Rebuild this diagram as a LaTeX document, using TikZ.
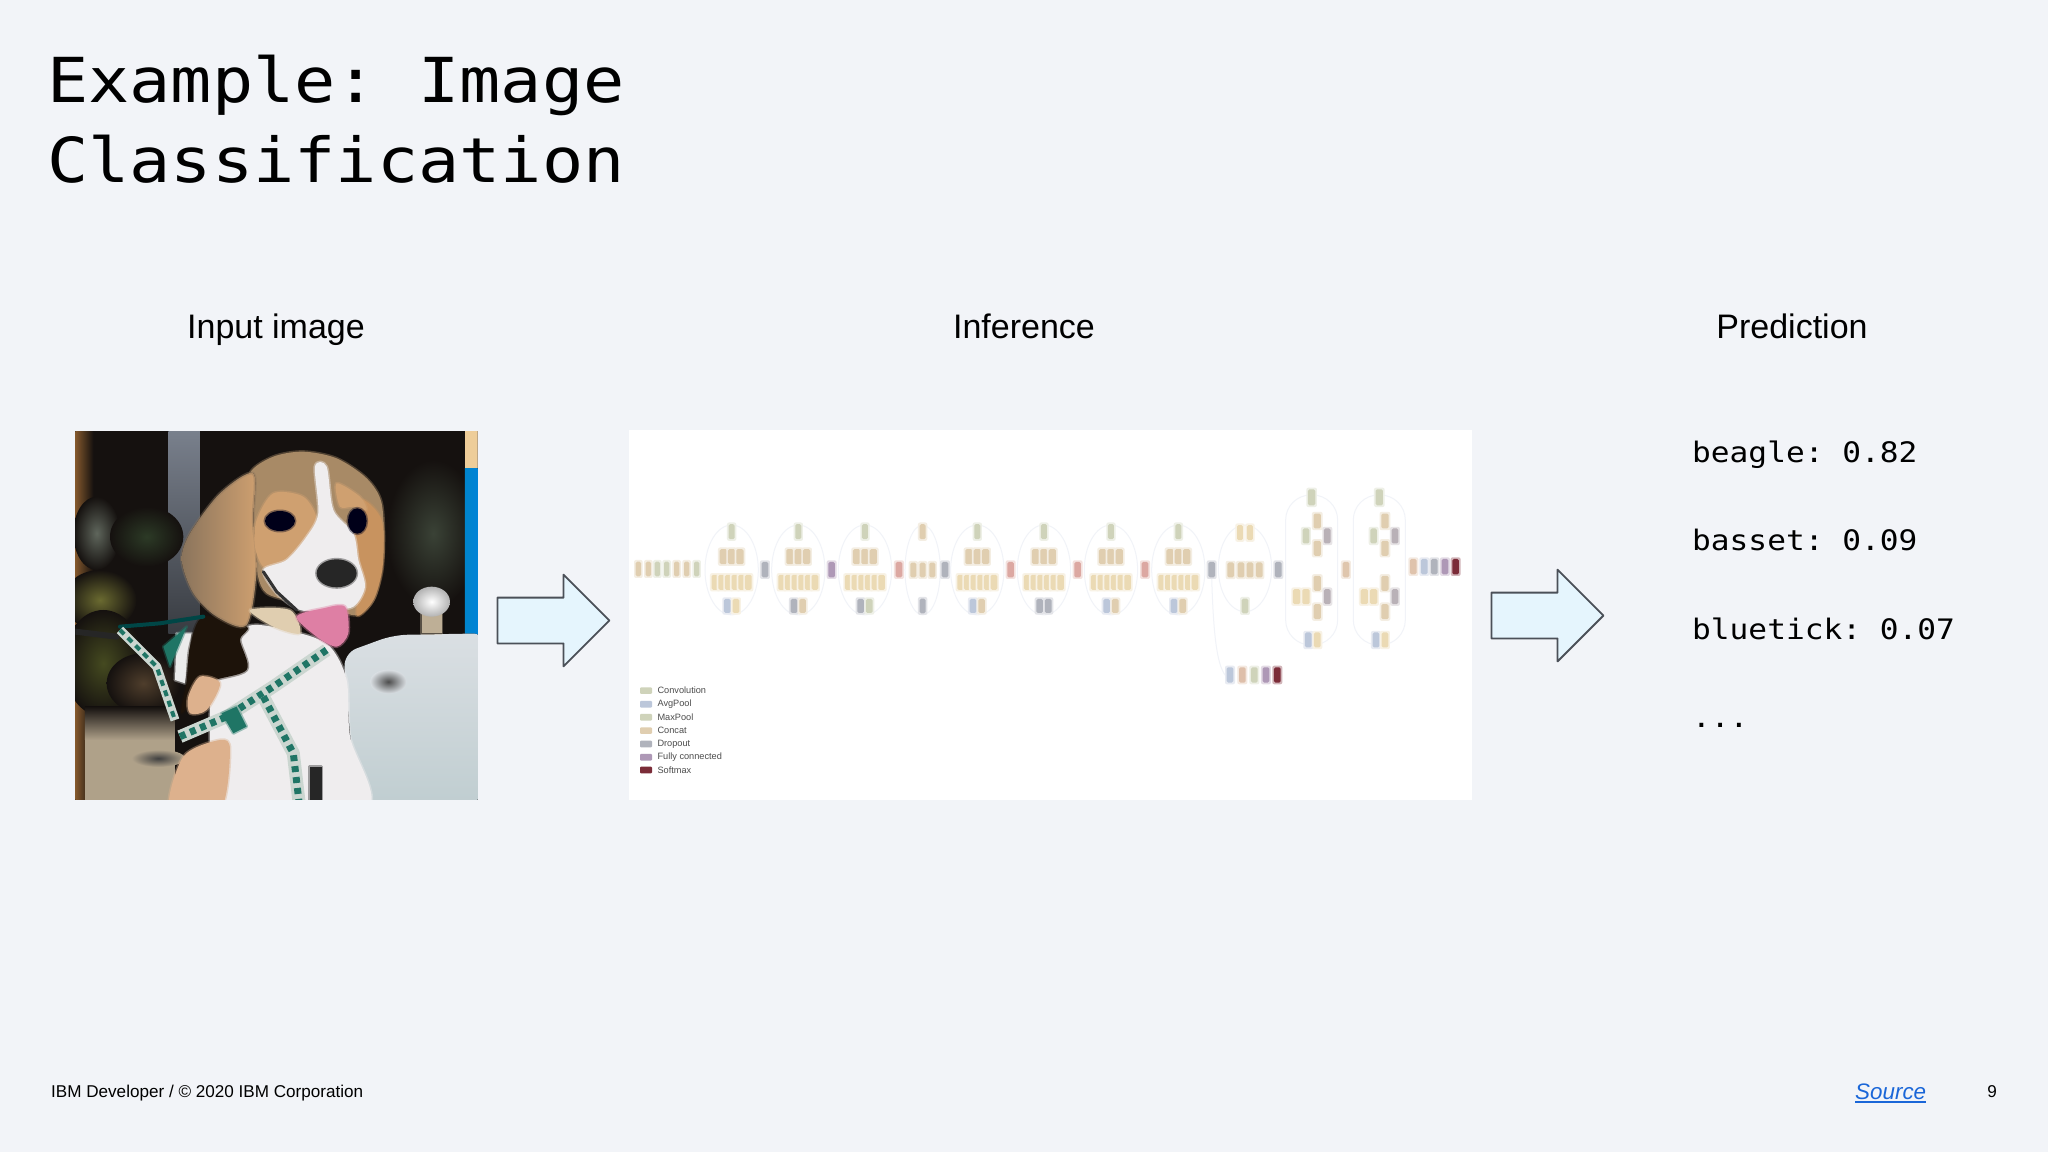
\documentclass[tikz,border=0pt]{standalone}
\usepackage{fontspec}
\usepackage{xcolor}
\usetikzlibrary{shapes.arrows}
\setmainfont{Liberation Sans}
\newfontfamily\codefont[FakeStretch=1.105]{DejaVu Sans Mono}
\frenchspacing

\definecolor{slidebg}{HTML}{F2F4F8}
\definecolor{arrowfill}{HTML}{E5F5FD}
\definecolor{arrowline}{HTML}{4B5058}
\definecolor{linkblue}{HTML}{1A66D8}
\definecolor{conv}{HTML}{EBDAB4}
\definecolor{tanb}{HTML}{E0CEB0}
\definecolor{blueb}{HTML}{BCC7DA}
\definecolor{greyb}{HTML}{B0B3BC}
\definecolor{sageb}{HTML}{CFD3BA}
\definecolor{pinkb}{HTML}{DCA8A2}
\definecolor{mauveb}{HTML}{AE98B6}
\definecolor{maroonb}{HTML}{7B2C38}
\definecolor{ringb}{HTML}{F1F3F8}
\definecolor{dogdark}{HTML}{15110F}
\definecolor{leafgrey}{HTML}{5F665C}
\definecolor{leafgreen}{HTML}{2C3A26}
\definecolor{leafolive}{HTML}{6A6A30}
\definecolor{leaflow}{HTML}{454A20}
\definecolor{leafbrown}{HTML}{4F3E2C}
\definecolor{leafright}{HTML}{3A4236}
\definecolor{furbrown}{HTML}{A88A66}
\definecolor{furgrey}{HTML}{8A745C}
\definecolor{furtan}{HTML}{CFA070}
\definecolor{furear}{HTML}{C8935F}
\definecolor{furwhite}{HTML}{EFEDEE}
\definecolor{peach}{HTML}{DDB18D}
\definecolor{tongue}{HTML}{DE7FA4}
\definecolor{carpale}{HTML}{DADFE3}
\definecolor{carlow}{HTML}{BFCDD0}
\definecolor{strapbase}{HTML}{CBD6D0}
\definecolor{strapgreen}{HTML}{1F7565}

\tikzset{
  blockarrow/.style={single arrow,draw=arrowline,fill=arrowfill,line width=1.8pt,
    minimum height=112pt,single arrow head extend=23pt,
    single arrow tip angle=90,single arrow head indent=0pt,inner sep=0pt,outer sep=0pt},
  heading/.style={anchor=base,font=\fontsize{34}{34}\selectfont,text=black,inner sep=0pt},
  titletext/.style={anchor=base west,font=\codefont\fontsize{62}{62}\selectfont,text=black,inner sep=0pt},
  scoretext/.style={anchor=base west,font=\codefont\fontsize{28.2}{28.2}\selectfont,text=black,inner sep=0pt},
  foottext/.style={anchor=base,font=\fontsize{17.1}{17.1}\selectfont,text=black,inner sep=0pt},
  legendtext/.style={anchor=west,font=\fontsize{9.2}{9.2}\selectfont,text=black!70,inner sep=0pt},
  ring/.style={draw=ringb,line width=1pt},
  soft/.style={fill=#1,draw=#1,draw opacity=.4,line width=3pt},
  strapw/.style={draw=strapbase,line width=13pt,line cap=butt},
  strapg/.style={draw=strapgreen,line width=7pt,line cap=butt,dash pattern=on 6pt off 5pt},
}
% one small block of the network, in crop units
\newcommand{\brick}[5]{
  \fill[#5!35,rounded corners=2pt] ({#1-#3/2-5},{#2-#4/2-5}) rectangle ({#1+#3/2+5},{#2+#4/2+5});
  \fill[#5,rounded corners=1.5pt] ({#1-#3/2},{#2-#4/2}) rectangle ({#1+#3/2},{#2+#4/2});
}
% a module with three rows and its two rings
\newcommand{\wideblock}[3]{
  \draw[ring] (#1,450) ellipse (80 and 135);
  \brick{#1}{335}{18}{45}{sageb}
  \foreach \dx in {-25,0,25} {\brick{#1+\dx}{410}{22}{45}{tanb}}
  \foreach \dx in {-50,-30,-10,10,30,50} {\brick{#1+\dx}{487}{20}{45}{conv}}
  \brick{#1-13}{558}{20}{42}{#2}
  \brick{#1+13}{558}{20}{42}{#3}
}
% a module with two diamonds
\newcommand{\tallblock}[1]{
  \draw[ring,rounded corners=25pt] (#1-78,225) rectangle (#1+78,675);
  \brick{#1}{232}{22}{48}{sageb}
  \brick{#1+17}{303}{22}{45}{tanb}
  \brick{#1-17}{348}{20}{45}{sageb}
  \brick{#1+47}{348}{20}{45}{greyb!80!pinkb}
  \brick{#1+17}{385}{22}{45}{tanb}
  \brick{#1-45}{530}{22}{45}{conv}
  \brick{#1-17}{530}{22}{45}{conv}
  \brick{#1+17}{490}{22}{45}{tanb}
  \brick{#1+47}{530}{20}{45}{greyb!80!pinkb}
  \brick{#1+17}{575}{22}{45}{tanb}
  \brick{#1-10}{660}{20}{45}{blueb}
  \brick{#1+17}{660}{20}{45}{conv}
}

\begin{document}
\begin{tikzpicture}[line cap=round,line join=round,x=1pt,y=-1pt]
\useasboundingbox (0,0) rectangle (2048,1152);
\fill[slidebg] (0,0) rectangle (2048,1152);

\node[titletext] (titleA) at (47,102) {Example: Image};
\node[titletext] (titleB) at (47,182) {Classification};

\node[heading] (inputhead) at (276,338) {Input image};
\node[heading] (inferhead) at (1024,338) {Inference};
\node[heading] (predhead) at (1792,338) {Prediction};

% dog photo, in crop units
\begin{scope}[shift={(60,420)},x=0.3333pt,y=-0.3333pt]
\clip (46,33) rectangle (1253,1138);
\fill[dogdark] (40,20) rectangle (1260,1170);
\fill[left color=brown!75!black,right color=dogdark] (40,20) rectangle (100,1170);
\fill[top color=blueb!65!black,bottom color=blueb!30!black] (325,20) rectangle (420,640);
\shade[inner color=leafgrey,outer color=dogdark] (110,340) ellipse (70 and 110);
\shade[inner color=leafgreen,outer color=dogdark] (260,350) ellipse (110 and 90);
\shade[inner color=leafolive,outer color=dogdark] (120,540) ellipse (110 and 90);
\shade[inner color=leaflow,outer color=dogdark] (130,730) ellipse (120 and 160);
\shade[inner color=leafbrown,outer color=dogdark] (250,790) ellipse (110 and 90);
\shade[inner color=leafright,outer color=dogdark] (1120,340) ellipse (140 and 220);
\fill[top color=dogdark,bottom color=black!22!tanb] (75,860) rectangle (345,960);
\fill[black!22!tanb] (75,960) rectangle (345,1170);
\shade[inner color=black!75,outer color=black!22!tanb] (295,1015) ellipse (80 and 26);
\fill[conv!85!orange] (1215,20) rectangle (1260,150);
\fill[left color=blue!35!cyan!80!black,right color=blue!40!cyan!85!black] (1215,145) rectangle (1260,650);
% car and cup
\fill[top color=carpale,bottom color=carlow,rounded corners=14pt] (850,700) -- (1000,645) -- (1280,640) -- (1280,1170) -- (890,1170) -- cycle;
\shade[inner color=black!70,outer color=carpale] (985,785) ellipse (55 and 36);
\fill[soft=tanb!85!black] (1085,570) rectangle (1145,640);
\shade[inner color=white,outer color=black!30] (1115,545) ellipse (55 and 45);
% body
\fill[soft=furwhite] plot[smooth cycle] coordinates {(560,620) (480,760) (450,830) (500,1170) (920,1170) (870,950) (860,780) (810,680) (720,640)};
\fill[soft=black!8] (350,640) -- (395,640) -- (375,790) -- (345,780) -- cycle;
\fill[soft=black!85!brown] plot[smooth cycle] coordinates {(430,590) (390,680) (380,790) (365,880) (440,790) (560,750) (540,660) (560,620)};
\fill[soft=peach] plot[smooth cycle] coordinates {(385,830) (420,770) (480,790) (440,870) (390,880)};
\fill[soft=peach] plot[smooth cycle] coordinates {(330,1170) (370,1010) (480,960) (510,990) (480,1170)};
% head
\fill[soft=furbrown] plot[smooth cycle] coordinates {(570,160) (640,110) (730,95) (830,115) (920,175) (965,250) (970,400) (945,530) (890,585) (800,560) (620,520) (585,400) (580,260)};
\fill[left color=furgrey,right color=furtan,draw=furgrey,draw opacity=.4,line width=3pt] plot[smooth cycle] coordinates {(580,160) (480,220) (390,340) (365,420) (400,520) (470,590) (560,615) (590,450) (580,300)};
\fill[soft=furear] plot[smooth cycle] coordinates {(905,240) (965,300) (968,440) (940,540) (890,585) (900,450) (880,330)};
\fill[soft=furtan] plot[smooth cycle] coordinates {(590,300) (640,220) (730,230) (770,300) (730,380) (660,440) (610,440) (585,380)};
\fill[soft=furtan] plot[smooth cycle] coordinates {(830,190) (900,230) (920,270) (880,260) (840,260)};
\fill[soft=furwhite] plot[smooth cycle] coordinates {(765,140) (800,140) (820,270) (880,340) (895,420) (915,500) (880,560) (800,570) (720,570) (650,520) (610,450) (680,420) (740,350) (775,280)};
\fill[soft=tanb] plot[smooth cycle] coordinates {(570,570) (690,570) (720,640) (640,620)};
\fill[soft=black!90!blue] (660,303) ellipse (45 and 30);
\fill[soft=black!90!blue] (892,303) ellipse (28 and 38);
\fill[soft=black!85] (830,460) ellipse (60 and 42);
\draw[black!80,line width=3pt] (610,455) -- (650,515) -- (710,570);
\fill[soft=tongue] plot[smooth cycle] coordinates {(710,590) (790,565) (855,560) (865,640) (830,680) (770,650)};
% harness
\draw[black!85,line width=6pt] (46,635) -- (170,650);
\fill[soft=strapgreen] (310,680) -- (380,620) -- (330,740) -- cycle;
\draw[black!45!teal,line width=4pt] (180,620) -- (300,610) -- (430,590);
\draw[strapw,line width=9pt] (180,630) -- (290,740) -- (345,900);
\draw[strapg,line width=4pt] (180,630) -- (290,740) -- (345,900);
\draw[strapw] (360,950) -- (500,890) -- (640,800) -- (800,690);
\draw[strapg] (360,950) -- (500,890) -- (640,800) -- (800,690);
\draw[strapw] (610,830) -- (700,1000) -- (720,1170);
\draw[strapg] (610,830) -- (700,1000) -- (720,1170);
\fill[soft=strapgreen] (485,880) -- (530,860) -- (560,920) -- (520,940) -- cycle;
\fill[soft=black!85] (750,1040) rectangle (785,1170);
\end{scope}

% network panel
\fill[white] (629,430) rectangle (1472,800);

\begin{scope}[shift={(620,420)},x=0.3333pt,y=-0.3333pt]
\foreach \px/\pc in {55/tanb,85/tanb,112/sageb,140/sageb,170/tanb,200/tanb,230/sageb} {\brick{\px}{447}{16}{44}{\pc}}
\wideblock{335}{blueb}{conv}
\wideblock{535}{greyb}{tanb}
\wideblock{735}{greyb}{sageb}
\wideblock{1072}{blueb}{tanb}
\wideblock{1272}{greyb}{greyb}
\wideblock{1473}{blueb}{tanb}
\draw[ring] (908,450) ellipse (53 and 135);
\brick{908}{335}{18}{45}{tanb}
\foreach \px in {880,908,937} {\brick{\px}{450}{18}{44}{tanb}}
\brick{908}{558}{18}{44}{greyb}
\foreach \px/\pc in {435/greyb,635/mauveb,837/pinkb,975/greyb,1172/pinkb,1373/pinkb} {\brick{\px}{449}{20}{46}{\pc}}
% legend
\foreach \py/\pc/\ptxt/\pname in {812/sageb/Convolution/legconv,853/blueb/AvgPool/legavg,892/sageb/MaxPool/legmax,932/tanb/Concat/legcat,972/greyb/Dropout/legdrop,1012/mauveb/Fully connected/legfull,1050/maroonb/Softmax/legsoft} {
  \fill[\pc,rounded corners=1pt] (60,\py-10) rectangle (96,\py+10);
  \node[legendtext] (\pname) at (112,\py) {\ptxt};
}
\end{scope}

\begin{scope}[shift={(1100,420)},x=0.3333pt,y=-0.3333pt]
\wideblock{235}{blueb}{tanb}
\draw[ring] (435,445) ellipse (80 and 130);
\brick{420}{338}{18}{45}{conv}
\brick{450}{338}{18}{45}{conv}
\foreach \px in {392,423,450,478} {\brick{\px}{450}{20}{45}{tanb}}
\brick{435}{558}{20}{44}{sageb}
\tallblock{635}
\tallblock{838}
\draw[ring] (335,470) .. controls (340,640) and (350,730) .. (375,765);
\foreach \px/\pc in {135/pinkb,335/greyb,535/greyb,738/tanb!80!pinkb} {\brick{\px}{449}{20}{46}{\pc}}
\foreach \px/\pc in {390/blueb,427/pinkb!40!tanb,463/sageb,498/mauveb,532/maroonb} {\brick{\px}{765}{20}{46}{\pc}}
\foreach \px/\pc in {940/tanb!70!pinkb,973/blueb,1003/greyb,1035/mauveb,1067/maroonb} {\brick{\px}{440}{20}{46}{\pc}}
\end{scope}

\node[blockarrow] (arrowA) at (542,620.5) {\rule{0pt}{44pt}};
\node[blockarrow] (arrowB) at (1536,615.5) {\rule{0pt}{44pt}};

\node[scoretext] (scoreA) at (1692,462) {beagle: 0.82};
\node[scoretext] (scoreB) at (1692,550) {basset: 0.09};
\node[scoretext] (scoreC) at (1692,639) {bluetick: 0.07};
\node[scoretext] (scoreD) at (1692,727) {...};

\node[foottext,anchor=base west] (footer) at (51,1097) {IBM Developer / © 2020 IBM Corporation};
\node[foottext,font=\fontsize{22.4}{22.4}\selectfont\itshape,text=linkblue,anchor=base west] (source) at (1855,1099) {Source};
\draw[linkblue,line width=1.4pt,line cap=butt] (source.base west)+(0,3) -- ([yshift=-3pt]source.base east);
\node[foottext] (pagenum) at (1992,1097) {9};
\end{tikzpicture}
\end{document}
